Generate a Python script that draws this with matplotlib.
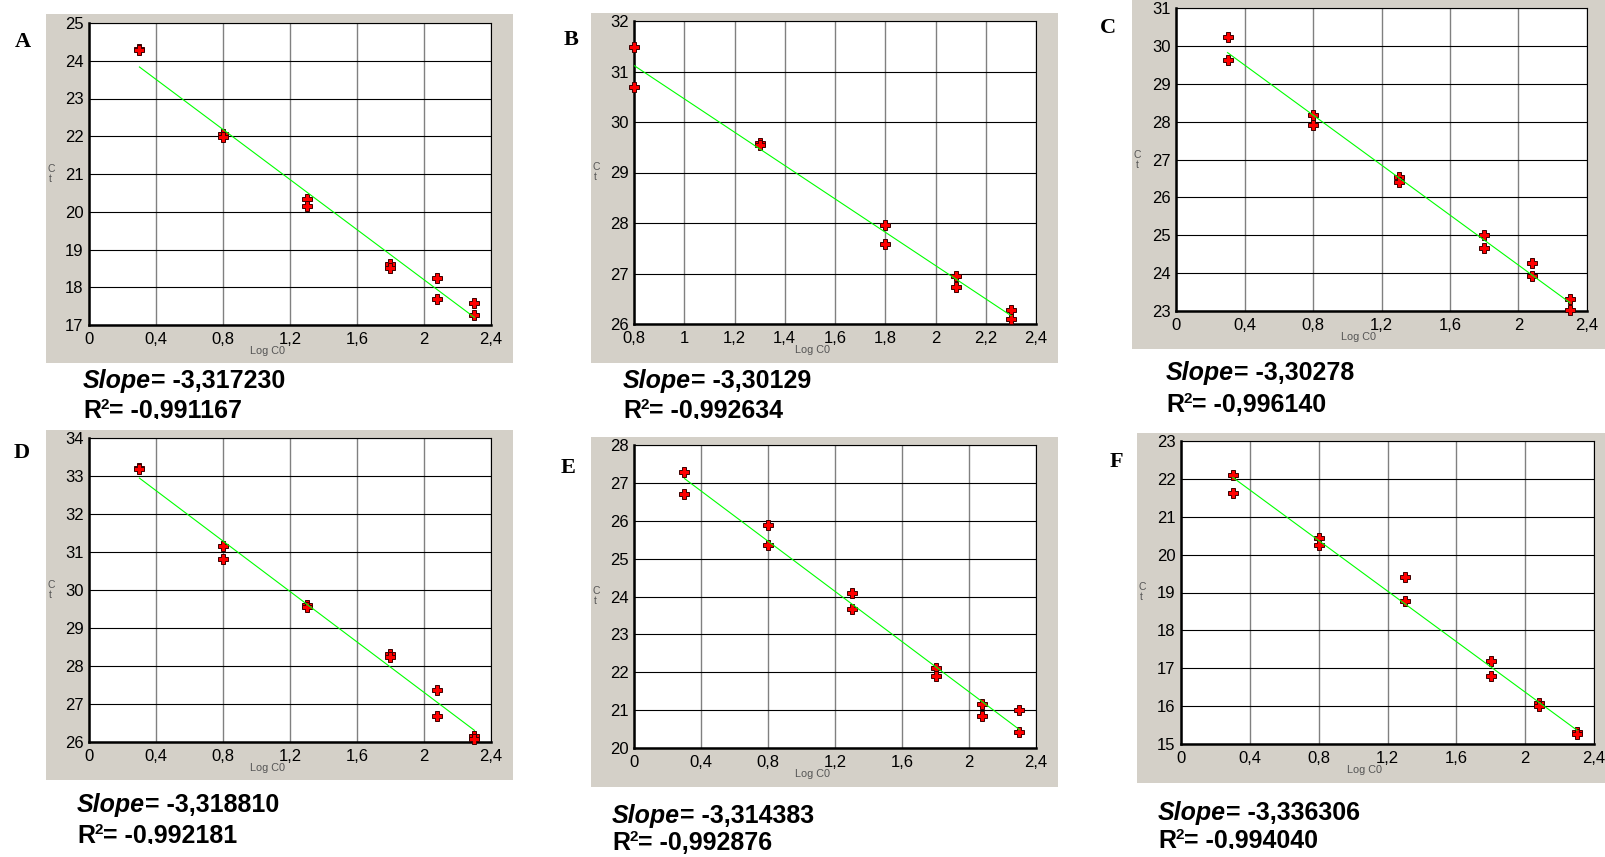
import numpy as np
import matplotlib
matplotlib.use('Agg')
import matplotlib.pyplot as plt
from matplotlib.patches import Rectangle
from matplotlib.ticker import FuncFormatter, FixedLocator
from matplotlib.transforms import Bbox, TransformedBbox

W, H = 1606, 857

plt.rcParams['font.family'] = ['Liberation Sans', 'DejaVu Sans']

# data
log_c0 = [0.301, 0.301, 0.8, 0.8, 1.301, 1.301, 1.8, 1.8, 2.08, 2.08, 2.301, 2.301]
log_c0_b = [0.8, 0.8, 1.301, 1.301, 1.8, 1.8, 2.08, 2.08, 2.301, 2.301]

ct_a = [24.32, 24.28, 22.07, 21.98, 20.34, 20.16, 18.62, 18.50, 18.25, 17.69, 17.59, 17.26]
ct_b = [31.48, 30.69, 29.59, 29.55, 27.96, 27.58, 26.96, 26.74, 26.28, 26.09]
ct_c = [30.23, 29.62, 28.18, 27.90, 26.55, 26.40, 25.00, 24.67, 24.27, 23.93, 23.33, 23.02]
ct_d = [33.20, 33.18, 31.16, 30.81, 29.60, 29.56, 28.31, 28.24, 27.36, 26.69, 26.15, 26.09]
ct_e = [27.30, 26.71, 25.88, 25.35, 24.08, 23.68, 22.11, 21.91, 21.17, 20.85, 21.01, 20.41]
ct_f = [22.09, 21.62, 20.44, 20.25, 19.41, 18.77, 17.19, 16.80, 16.07, 16.01, 15.32, 15.26]

letters = ['A', 'B', 'C', 'D', 'E', 'F']
slopes = [-3.317230, -3.30129, -3.30278, -3.318810, -3.314383, -3.336306]
slope_txt = ['-3,317230', '-3,30129', '-3,30278', '-3,318810', '-3,314383', '-3,336306']
r2_txt = ['-0,991167', '-0,992634', '-0,996140', '-0,992181', '-0,992876', '-0,994040']
ylims = [(17, 25), (26, 32), (23, 31), (26, 34), (20, 28), (15, 23)]
xlims = [(0, 2.4), (0.8, 2.4), (0, 2.4), (0, 2.4), (0, 2.4), (0, 2.4)]
xtick_step = [0.4, 0.2, 0.4, 0.4, 0.4, 0.4]

xs = [log_c0, log_c0_b, log_c0, log_c0, log_c0, log_c0]
ys = [ct_a, ct_b, ct_c, ct_d, ct_e, ct_f]

# pixel layout: gray box, plot box, letter centre, text x, slope baseline, r2 baseline, clip line
layout = [
    dict(box=(46, 14, 513, 363), plot=(89, 23, 491, 325), let=(23, 42), tx=83, sy=388, ry=418, clip=419),
    dict(box=(591, 13, 1058, 363), plot=(634, 21, 1036, 324), let=(571, 40), tx=623, sy=388, ry=418, clip=419),
    dict(box=(1132, 0, 1606, 349), plot=(1176, 8, 1587, 311), let=(1108, 28), tx=1166, sy=380, ry=412, clip=None),
    dict(box=(46, 430, 513, 780), plot=(89, 438, 491, 742), let=(22, 453), tx=77, sy=812, ry=843, clip=844),
    dict(box=(591, 437, 1058, 787), plot=(634, 445, 1036, 748), let=(568, 468), tx=612, sy=823, ry=850, clip=None),
    dict(box=(1137, 433, 1606, 783), plot=(1181, 441, 1594, 744), let=(1116, 462), tx=1158, sy=820, ry=848, clip=849),
]


def fx(px):
    return px / float(W)


def fy(py):
    return 1 - py / float(H)


def comma(v, pos):
    return ('%g' % round(v, 2)).replace('.', ',')


fig = plt.figure(figsize=(W / 100., H / 100.), dpi=100)
fig.patch.set_facecolor('white')
renderer = fig.canvas.get_renderer()


def clip_text(t, clip):
    if clip is not None:
        bb = Bbox([[0, fy(clip)], [1, 1]])
        t.set_clip_box(TransformedBbox(bb, fig.transFigure))
        t.set_clip_on(True)


def run_text(x, y, parts, clip=None):
    # draw a row of text pieces one after another: (text, size, style, dy)
    for s, size, style, dy in parts:
        t = fig.text(fx(x), fy(y - dy), s, fontsize=size, fontweight='bold',
                     fontstyle=style, ha='left', va='baseline')
        clip_text(t, clip)
        x += t.get_window_extent(renderer).width


for i in range(6):
    L = layout[i]
    x0, y0, x1, y1 = L['box']
    fig.add_artist(Rectangle((fx(x0), fy(y1)), fx(x1) - fx(x0), fy(y0) - fy(y1),
                             transform=fig.transFigure, facecolor='#d4d0c8',
                             edgecolor='none', zorder=0))
    p0, q0, p1, q1 = L['plot']
    ax = fig.add_axes([fx(p0), fy(q1), fx(p1) - fx(p0), fy(q0) - fy(q1)])
    ax.set_facecolor('white')
    ax.set_xlim(*xlims[i])
    ax.set_ylim(*ylims[i])
    step = xtick_step[i]
    ax.xaxis.set_major_locator(FixedLocator(np.arange(xlims[i][0], xlims[i][1] + 1e-6, step)))
    ax.yaxis.set_major_locator(FixedLocator(np.arange(ylims[i][0], ylims[i][1] + 1)))
    ax.xaxis.set_major_formatter(FuncFormatter(comma))
    ax.tick_params(length=0, labelsize=12, pad=5, colors='black')
    ax.tick_params(axis='y', pad=4)
    ax.set_axisbelow(True)
    ax.xaxis.grid(True, color='#808080', lw=1.0)
    ax.yaxis.grid(True, color='black', lw=0.8)
    for s in ['left', 'bottom']:
        ax.spines[s].set_linewidth(1.8)
    for s in ['top', 'right']:
        ax.spines[s].set_linewidth(0.8)

    x = np.array(xs[i])
    y = np.array(ys[i])
    ax.plot(x, y, linestyle='none', marker='P', ms=6.5, mfc='#ff0000', mec='#3a0000',
            mew=0.7, clip_on=False, zorder=3)
    # regression line with the reported slope through the centroid
    xl = np.array([x.min(), x.max()])
    yl = y.mean() + slopes[i] * (xl - x.mean())
    ax.plot(xl, yl, color='#00ff00', lw=0.8, zorder=4)

    ax.text(0.445, -0.085, 'Log C0', transform=ax.transAxes, fontsize=7.8,
            color='#555555', ha='center', va='center')
    ax.text(-0.095, 0.5, 'C\nt', transform=ax.transAxes, fontsize=7.5,
            color='#555555', ha='center', va='center', linespacing=1.0)

    fig.text(fx(L['let'][0]), fy(L['let'][1]), letters[i], fontsize=16,
             fontweight='bold', family='Liberation Serif', ha='center', va='center')
    run_text(L['tx'], L['sy'], [('Slope', 18, 'italic', 0),
                                ('= ' + slope_txt[i], 18, 'normal', 0)])
    run_text(L['tx'], L['ry'], [('R', 18, 'normal', 0),
                                ('2', 11, 'normal', 9),
                                ('= ' + r2_txt[i], 18, 'normal', 0)], clip=L['clip'])

plt.savefig('out.png', dpi=100)
